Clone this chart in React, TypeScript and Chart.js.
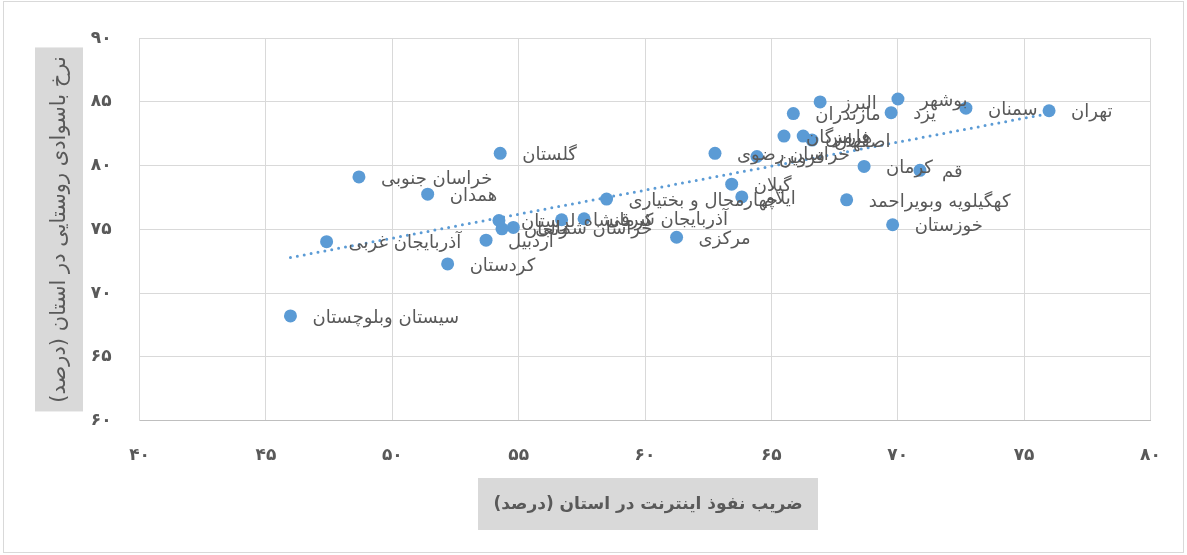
import React, { useEffect, useRef } from 'react';
import { Chart, registerables } from 'chart.js';

Chart.register(...registerables);

const provinces = [
  'تهران', 'سمنان', 'بوشهر', 'یزد', 'البرز', 'مازندران', 'هرمزگان', 'فارس', 'اصفهان',
  'خراسان رضوی', 'قزوین', 'کرمان', 'قم', 'گیلان', 'ایلام', 'کهگیلویه وبویراحمد', 'خوزستان',
  'چهارمحال و بختیاری', 'مرکزی', 'آذربایجان شرقی', 'کرمانشاه', 'خراسان شمالی', 'زنجان', 'لرستان',
  'اردبیل', 'گلستان', 'خراسان جنوبی', 'همدان', 'آذربایجان غربی', 'کردستان', 'سیستان وبلوچستان',
];
const internetPenetration = [
  75.99, 72.7, 70.01, 69.74, 66.93, 65.87, 65.5, 66.26, 66.61,
  62.77, 64.43, 68.67, 70.88, 63.43, 63.83, 67.98, 69.8,
  58.48, 61.25, 57.59, 56.7, 54.79, 54.34, 54.22,
  53.71, 54.27, 48.68, 51.4, 47.4, 52.19, 45.97,
];
const ruralLiteracy = [
  84.31, 84.51, 85.23, 84.16, 85.0, 84.09, 82.32, 82.32, 82.01,
  80.97, 80.72, 79.94, 79.64, 78.55, 77.55, 77.32, 75.37,
  77.38, 74.39, 75.84, 75.76, 75.16, 75.05, 75.7,
  74.16, 80.97, 79.12, 77.77, 74.04, 72.3, 68.22,
];
const xTickLabels = ['۴۰', '۴۵', '۵۰', '۵۵', '۶۰', '۶۵', '۷۰', '۷۵', '۸۰'];
const yTickLabels = ['۶۰', '۶۵', '۷۰', '۷۵', '۸۰', '۸۵', '۹۰'];
const trendX = [45.97, 75.99];
const trendY = [72.8, 84.1];
const xTitle = 'ضریب نفوذ اینترنت در استان (درصد)';
const yTitle = 'نرخ باسوادی روستایی در استان (درصد)';

const FONT = "'DejaVu Sans', 'Noto Sans', sans-serif";
const BLUE = '#5b9bd5';
const TEXT = '#595959';

const W = 1187;
const H = 555;

export default function App() {
  const ref = useRef<HTMLCanvasElement | null>(null);

  useEffect(() => {
    document.body.style.margin = '0';
    const canvas = ref.current;
    if (!canvas) return;

    const frame = {
      id: 'frame',
      beforeDraw(chart: any) {
        const ctx = chart.ctx;
        ctx.save();
        ctx.fillStyle = '#ffffff';
        ctx.fillRect(0, 0, W, H);
        ctx.strokeStyle = '#d9d9d9';
        ctx.lineWidth = 1;
        ctx.strokeRect(3.5, 1.5, W - 7, H - 4);
        ctx.restore();
      },
    };

    const pointLabels = {
      id: 'pointLabels',
      afterDatasetsDraw(chart: any) {
        const ctx = chart.ctx;
        const meta = chart.getDatasetMeta(0);
        ctx.save();
        ctx.font = `18px ${FONT}`;
        ctx.fillStyle = TEXT;
        ctx.textAlign = 'left';
        ctx.textBaseline = 'middle';
        (ctx as any).direction = 'rtl';
        meta.data.forEach((el: any, i: number) => {
          ctx.fillText(provinces[i], el.x + 22, el.y + 2);
        });
        ctx.restore();
      },
    };

    const titles = {
      id: 'titles',
      afterDraw(chart: any) {
        const ctx = chart.ctx;
        const a = chart.chartArea;
        ctx.save();
        (ctx as any).direction = 'rtl';
        ctx.textAlign = 'center';
        ctx.textBaseline = 'middle';
        // x title
        const xw = 340, xh = 52;
        const xcx = (a.left + a.right) / 2 + 3;
        const xtop = 478;
        ctx.fillStyle = '#d9d9d9';
        ctx.fillRect(xcx - xw / 2, xtop, xw, xh);
        let fs = 20;
        ctx.font = `bold ${fs}px ${FONT}`;
        while (ctx.measureText(xTitle).width > xw - 22 && fs > 10) {
          fs -= 0.5;
          ctx.font = `bold ${fs}px ${FONT}`;
        }
        ctx.fillStyle = TEXT;
        ctx.fillText(xTitle, xcx, xtop + xh / 2 + 1);
        // y title
        const yw = 48, yh = 364;
        const ycy = (a.top + a.bottom) / 2;
        const yleft = 35;
        ctx.fillStyle = '#d9d9d9';
        ctx.fillRect(yleft, ycy - yh / 2, yw, yh);
        let fs2 = 21;
        ctx.font = `${fs2}px ${FONT}`;
        while (ctx.measureText(yTitle).width > yh - 16 && fs2 > 10) {
          fs2 -= 0.5;
          ctx.font = `${fs2}px ${FONT}`;
        }
        ctx.translate(yleft + yw / 2, ycy);
        ctx.rotate(-Math.PI / 2);
        ctx.fillStyle = TEXT;
        ctx.fillText(yTitle, 0, 1);
        ctx.restore();
      },
    };

    const chart = new Chart(canvas, {
      type: 'scatter',
      data: {
        datasets: [
          {
            label: 'provinces',
            data: internetPenetration.map((x, i) => ({ x, y: ruralLiteracy[i] })),
            backgroundColor: BLUE,
            borderWidth: 0,
            pointRadius: 6.5,
            pointHoverRadius: 6.5,
            order: 1,
          },
          {
            label: 'trend',
            type: 'line',
            data: trendX.map((x, i) => ({ x, y: trendY[i] })),
            borderColor: BLUE,
            borderWidth: 3,
            borderDash: [0, 7],
            borderCapStyle: 'round',
            pointRadius: 0,
            fill: false,
            order: 0,
          } as any,
        ],
      },
      options: {
        animation: false,
        responsive: false,
        devicePixelRatio: 1,
        events: [],
        layout: { padding: { top: 36.7, right: W - 1150.4, left: 0, bottom: 0 } },
        plugins: {
          legend: { display: false },
          tooltip: { enabled: false },
        },
        scales: {
          x: {
            type: 'linear',
            min: 40,
            max: 80,
            ticks: {
              stepSize: 5,
              padding: 25,
              color: TEXT,
              font: { family: FONT, size: 17, weight: 'bold' },
              maxRotation: 0,
              callback: (_v: any, i: number) => xTickLabels[i],
            },
            grid: { color: '#d9d9d9', drawTicks: false },
            border: { color: '#bfbfbf' },
            afterFit: (s: any) => { s.height = H - 420.7; },
          },
          y: {
            type: 'linear',
            min: 60,
            max: 90,
            ticks: {
              stepSize: 5,
              padding: 28,
              color: TEXT,
              font: { family: FONT, size: 17, weight: 'bold' },
              callback: (_v: any, i: number) => yTickLabels[i],
            },
            grid: { color: '#d9d9d9', drawTicks: false },
            border: { color: '#d9d9d9' },
            afterFit: (s: any) => { s.width = 139.6; },
          },
        },
      } as any,
      plugins: [frame, pointLabels, titles],
    });

    return () => chart.destroy();
  }, []);

  return (
    <div style={{ width: W, height: H, position: 'relative' }}>
      <canvas ref={ref} width={W} height={H} style={{ display: 'block', width: W, height: H }} />
    </div>
  );
}
